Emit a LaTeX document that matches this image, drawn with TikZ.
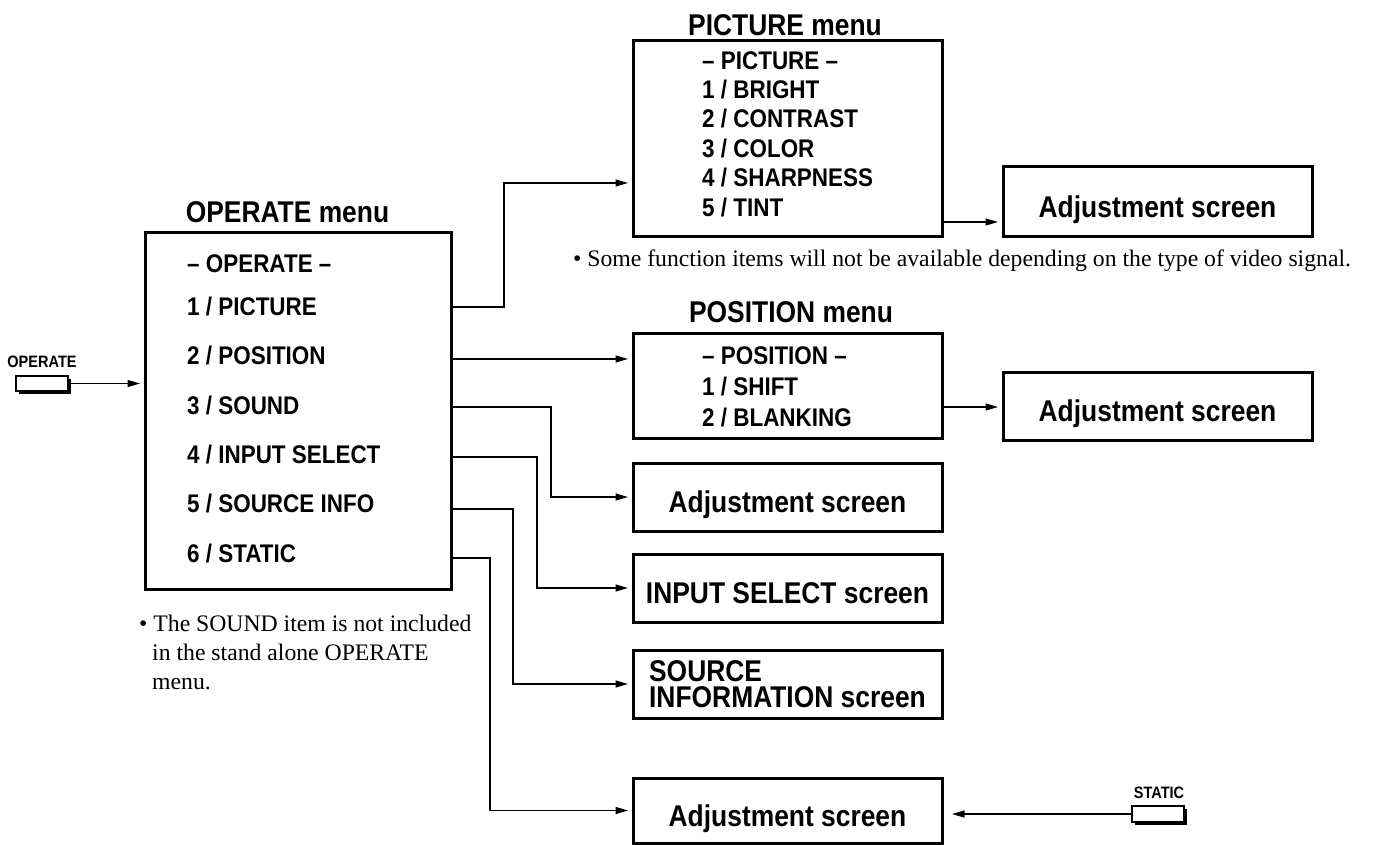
\documentclass[tikz,border=0pt]{standalone}
\usepackage{fontspec}
\setmainfont{Liberation Serif}
\newfontfamily\cond[FakeStretch=0.88]{Liberation Sans}
\usetikzlibrary{arrows.meta,shadows}
\begin{document}
\begin{tikzpicture}[x=1pt,y=-1pt,
  box/.style={draw, line width=3pt, inner sep=0pt, outer sep=0pt},
  conn/.style={line width=1.3pt, -{Triangle[length=12.5pt,width=7pt]}, shorten >=5pt},
  title/.style={font=\cond\bfseries\fontsize{30}{36}\selectfont, anchor=base, inner sep=0pt},
  item/.style={font=\cond\bfseries\fontsize{25.5}{30}\selectfont, anchor=base west, inner sep=0pt},
  screen/.style={box, minimum width=309pt, minimum height=68pt, font=\cond\bfseries\fontsize{30}{36}\selectfont, text height=31.6pt, text depth=0pt},
  note/.style={font=\fontsize{23.7}{29}\selectfont, anchor=base west, inner sep=0pt},
  btn/.style={draw, line width=1.3pt, fill=white, minimum width=52pt, minimum height=15pt, inner sep=0pt, outer sep=0pt, drop shadow={shadow xshift=2.5pt, shadow yshift=-2.5pt, fill=black, opacity=1}},
  btnlabel/.style={font=\cond\bfseries\fontsize{16.5}{20}\selectfont, anchor=base, inner sep=0pt}
]
\useasboundingbox (0,0) rectangle (1375,845);

% OPERATE menu
\node[title] (optitle) at (287.5,222.7) {OPERATE menu};
\node[box, minimum width=306pt, minimum height=357pt] (op) at (298,410.5) {};
\node[item] (op0) at (187,272.1) {– OPERATE –};
\node[item] (op1) at (187,315.1) {1 / PICTURE};
\node[item] (op2) at (187,364.6) {2 / POSITION};
\node[item] (op3) at (187,414.1) {3 / SOUND};
\node[item] (op4) at (187,463.1) {4 / INPUT SELECT};
\node[item] (op5) at (187,512.6) {5 / SOURCE INFO};
\node[item] (op6) at (187,562.1) {6 / STATIC};

% PICTURE menu
\node[title] (pictitle) at (785,35.7) {PICTURE menu};
\node[box, minimum width=309pt, minimum height=195pt] (pic) at (787.5,138.5) {};
\node[item] (pic0) at (702,69.1) {– PICTURE –};
\node[item] (pic1) at (702,98.5) {1 / BRIGHT};
\node[item] (pic2) at (702,127.9) {2 / CONTRAST};
\node[item] (pic3) at (702,157.3) {3 / COLOR};
\node[item] (pic4) at (702,186.7) {4 / SHARPNESS};
\node[item] (pic5) at (702,216.1) {5 / TINT};

% POSITION menu
\node[title] (postitle) at (791,322.7) {POSITION menu};
\node[box, minimum width=309pt, minimum height=105pt] (pos) at (787.5,385.5) {};
\node[item] (pos0) at (702,364.1) {– POSITION –};
\node[item] (pos1) at (702,395.1) {1 / SHIFT};
\node[item] (pos2) at (702,426.1) {2 / BLANKING};

% screens
\node[screen, minimum height=69pt] (adj1) at (1157.5,201.5) {Adjustment screen};
\node[screen] (adj2) at (1157.5,406) {Adjustment screen};
\node[screen] (adj3) at (787.5,497) {Adjustment screen};
\node[screen] (inp) at (787.5,588) {INPUT SELECT screen};
\node[box, minimum width=309pt, minimum height=68pt, font=\cond\bfseries\fontsize{30}{25.5}\selectfont, align=left] (src) at (787.5,684) {SOURCE\\INFORMATION screen};
\node[screen, minimum height=65pt] (adj4) at (787.5,810.5) {Adjustment screen};

% buttons
\node[btnlabel] (oplabel) at (42,367.9) {OPERATE};
\node[btn] (obtn) at (42,383.5) {};
\node[btnlabel] (stlabel) at (1159,798.9) {STATIC};
\node[btn, minimum height=16pt] (sbtn) at (1158,814) {};

% notes
\node[note] (n1a) at (139,631) {• The SOUND item is not included};
\node[note] (n1b) at (152,660) {in the stand alone OPERATE};
\node[note] (n1c) at (152,689) {menu.};
\node[note] (n2) at (573,266) {• Some function items will not be available depending on the type of video signal.};

% connectors
\draw[conn] (obtn.east) -- (op.west |- obtn.east);
\draw[conn] (op.east |- 0,307) -- (504,307) |- (pic.west |- 0,183);
\draw[conn] (op.east |- 0,359) -- (pos.west |- 0,359);
\draw[conn] (op.east |- 0,407) -- (551,407) |- (adj3.west);
\draw[conn] (op.east |- 0,457) -- (537,457) |- (inp.west);
\draw[conn] (op.east |- 0,509) -- (513,509) |- (src.west);
\draw[conn] (op.east |- 0,558) -- (490,558) |- (adj4.west);
\draw[conn] (pic.east |- 0,222) -- (adj1.west |- 0,222);
\draw[conn] (pos.east |- 0,407) -- (adj2.west |- 0,407);
\draw[conn, shorten >=10pt] (sbtn.west) -- (adj4.east |- sbtn.west);
\end{tikzpicture}
\end{document}
